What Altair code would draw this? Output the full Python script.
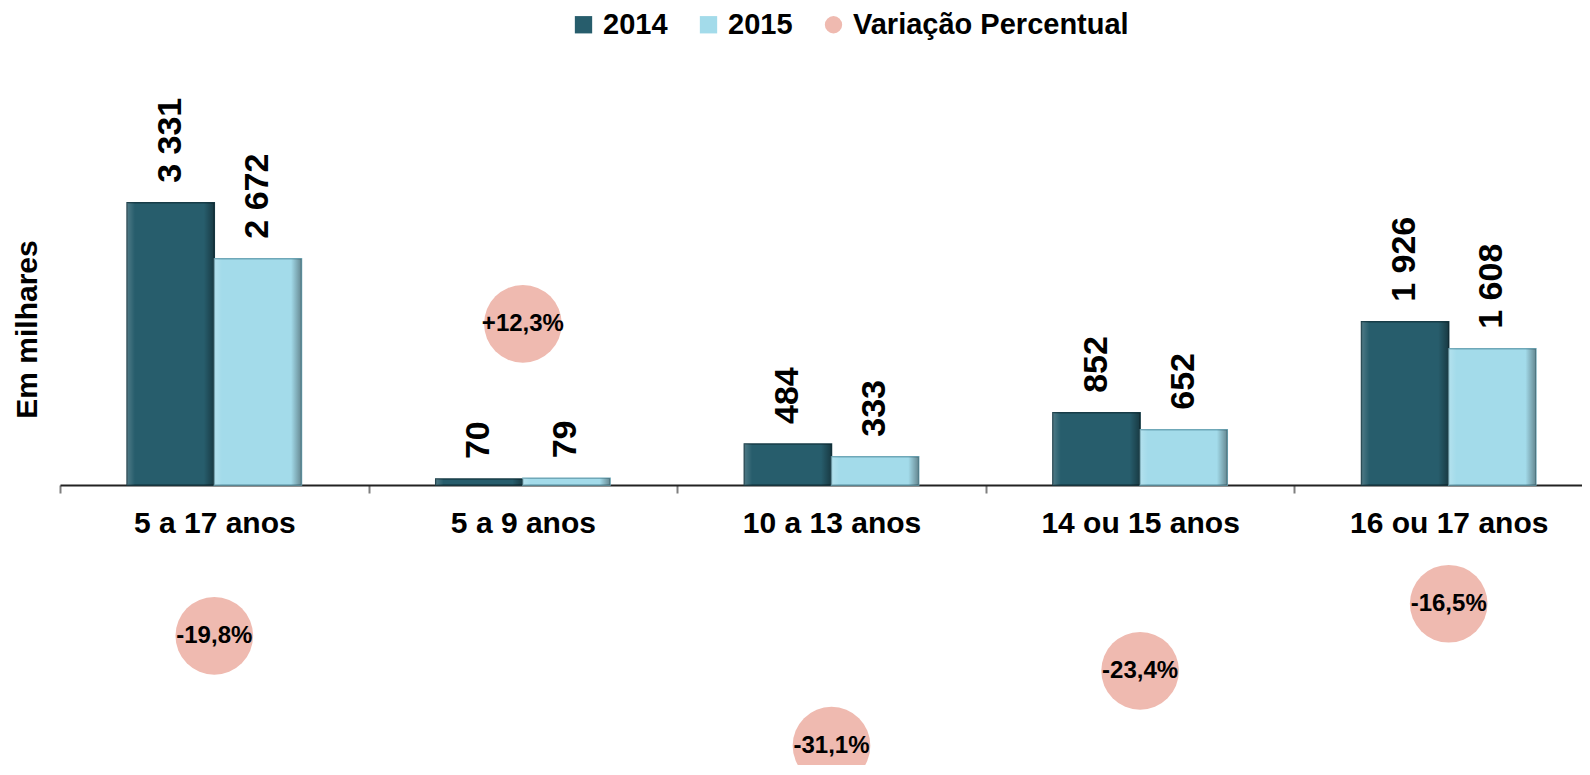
import altair as alt
import pandas as pd

categories = ["5 a 17 anos", "5 a 9 anos", "10 a 13 anos", "14 ou 15 anos", "16 ou 17 anos"]
values_2014 = [3331, 70, 484, 852, 1926]
values_2015 = [2672, 79, 333, 652, 1608]
variation = [-19.8, 12.3, -31.1, -23.4, -16.5]

series_names = ["2014", "2015", "Variação Percentual"]
series_colors = ["#275D6C", "#A3DBEA", "#EFBAB0"]
series_shapes = ["square", "square", "circle"]
stroke_colors = ["#173C47", "#6FA8B8"]

FONT = "Liberation Sans"


def fmt_thousands(v):
    return f"{v:,}".replace(",", " ")


def fmt_pct(v):
    s = f"{v:+.1f}".replace(".", ",")
    return s + "%"


rows = []
for c, a, b in zip(categories, values_2014, values_2015):
    rows.append({"cat": c, "series": "2014", "value": a, "label": fmt_thousands(a)})
    rows.append({"cat": c, "series": "2015", "value": b, "label": fmt_thousands(b)})
bars_df = pd.DataFrame(rows)

pct_df = pd.DataFrame({
    "cat": categories,
    "series": ["Variação Percentual"] * len(categories),
    "pct": variation,
    "label": [fmt_pct(v) for v in variation],
})

x_enc = alt.X(
    "cat:N",
    sort=categories,
    scale=alt.Scale(paddingInner=0, paddingOuter=0, range=[0, 1543]),
    axis=alt.Axis(
        title=None,
        labelAngle=0,
        labelFont=FONT,
        labelFontSize=30,
        labelFontWeight="bold",
        labelColor="black",
        labelLimit=500,
        tickBand="extent",
        tickSize=8,
        tickColor="#7f7f7f",
        tickWidth=2,
        domainColor="#222222",
        domainWidth=2,
        offset=-280,
        labelPadding=15,
        grid=False,
    ),
)

xoff = alt.XOffset(
    "series:N",
    sort=["2014", "2015"],
    scale=alt.Scale(paddingOuter=0.77, paddingInner=0),
)

legend_def = alt.Legend(
    title=None,
    orient="none",
    legendX=509,
    legendY=-48,
    direction="horizontal",
    labelFont=FONT,
    labelFontSize=29,
    labelFontWeight="bold",
    labelColor="black",
    labelLimit=600,
    labelOffset=5,
    columnPadding=26,
    padding=0,
    symbolSize=300,
    symbolStrokeWidth=0,
    symbolOpacity=1,
)

color_enc = alt.Color(
    "series:N",
    scale=alt.Scale(domain=series_names, range=series_colors),
    legend=legend_def,
)

shape_enc = alt.Shape(
    "series:N",
    scale=alt.Scale(domain=series_names, range=series_shapes),
    legend=legend_def,
)

y_bar = alt.Y(
    "value:Q",
    scale=alt.Scale(domain=[-3306, 5041], nice=False, zero=False),
    axis=alt.Axis(
        title="Em milhares",
        labels=False,
        ticks=False,
        domain=False,
        grid=False,
        titleFont=FONT,
        titleFontSize=30,
        titleFontWeight="bold",
        titleColor="black",
        titleAngle=270,
        titleX=-24,
        titleY=271,
        titleAlign="center",
        titleBaseline="alphabetic",
        titleLimit=600,
    ),
)

bars = alt.Chart(bars_df).mark_bar(strokeWidth=1.5).encode(
    x=x_enc,
    xOffset=xoff,
    y=y_bar,
    color=color_enc,
    stroke=alt.Stroke(
        "series:N",
        scale=alt.Scale(domain=["2014", "2015"], range=stroke_colors),
        legend=None,
    ),
)

bevel = alt.Chart(bars_df).mark_bar(
    fill=alt.LinearGradient(
        gradient="linear",
        x1=0, x2=1, y1=0, y2=0,
        stops=[
            alt.GradientStop(offset=0, color="rgba(255,255,255,0.18)"),
            alt.GradientStop(offset=0.09, color="rgba(255,255,255,0.0)"),
            alt.GradientStop(offset=0.88, color="rgba(0,0,0,0.0)"),
            alt.GradientStop(offset=1, color="rgba(0,0,0,0.38)"),
        ],
    ),
    strokeWidth=0,
).encode(
    x=x_enc,
    xOffset=xoff,
    y=y_bar,
)

bar_text = alt.Chart(bars_df).mark_text(
    angle=270,
    align="left",
    baseline="middle",
    dx=20,
    font=FONT,
    fontSize=34,
    fontWeight="bold",
    color="black",
).encode(
    x=x_enc,
    xOffset=xoff,
    y=y_bar,
    text="label:N",
)

y_pct = alt.Y(
    "pct:Q",
    scale=alt.Scale(domain=[-33.09, 39.65], nice=False, zero=False),
    axis=None,
)

circles = alt.Chart(pct_df).mark_point(
    filled=True, opacity=1, size=6037
).encode(
    x=x_enc,
    y=y_pct,
    color=color_enc,
    shape=shape_enc,
)

circle_text = alt.Chart(pct_df).mark_text(
    align="center",
    baseline="middle",
    font=FONT,
    fontSize=24,
    fontWeight="bold",
    color="black",
).encode(
    x=x_enc,
    y=y_pct,
    text="label:N",
)

chart = (
    alt.layer(
        alt.layer(bars, bevel, bar_text),
        alt.layer(circles, circle_text),
    )
    .resolve_scale(y="independent")
    .properties(
        width=1522,
        height=707,
        autosize=alt.AutoSizeParams(type="none"),
        padding={"left": 52, "top": 50, "right": 0, "bottom": 0},
    )
    .configure(font=FONT)
    .configure_view(stroke=None)
)

chart.save("out.html", embed_options={"renderer": "svg", "actions": False})
